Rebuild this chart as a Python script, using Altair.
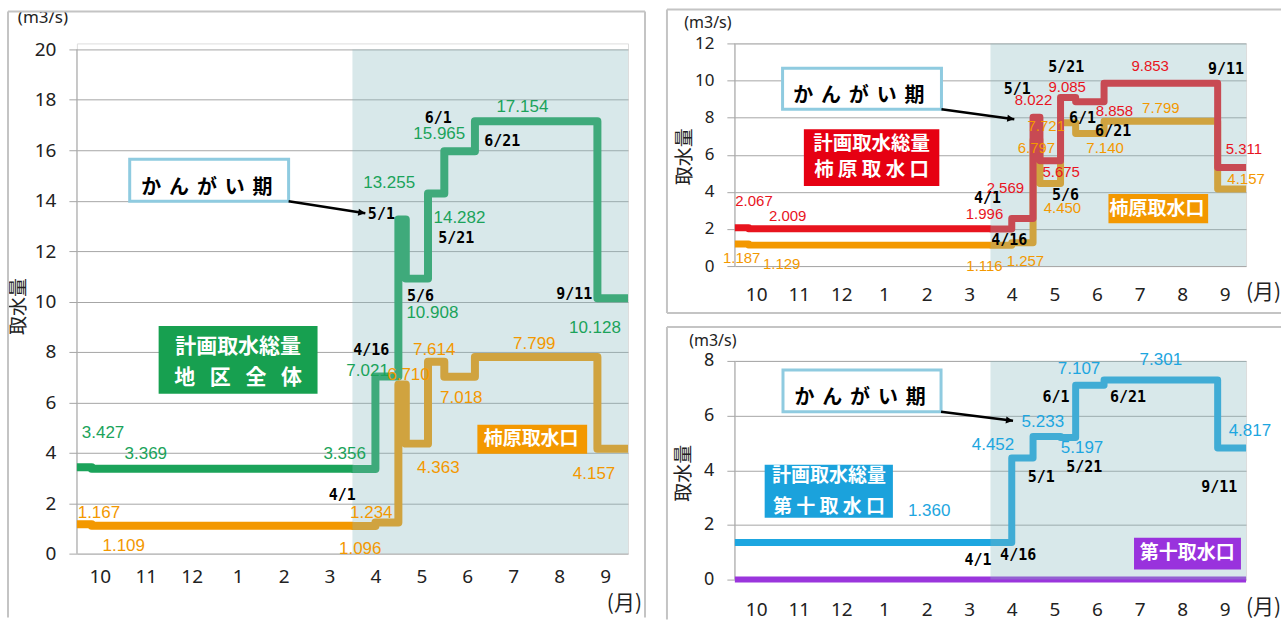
import math
import altair as alt
import pandas as pd

# ---- calendar: water year runs October -> September, one unit per month ----
MONTH_ORDER = [10, 11, 12, 1, 2, 3, 4, 5, 6, 7, 8, 9]
MONTH_DAYS = [31, 30, 31, 31, 28, 31, 30, 31, 30, 31, 31, 30]


def mpos(date):
    m, d = (int(p) for p in date.split("/"))
    i = MONTH_ORDER.index(m)
    return i + (d - 1) / MONTH_DAYS[i]


# ---- planned intake (m3/s), value in force from each change date ----
change_dates = ["10/1", "10/11", "4/1", "4/16", "5/1", "5/6", "5/21", "6/1", "6/21", "9/11"]

district_total = [3.427, 3.369, 3.356, 7.021, 13.255, 10.908, 14.282, 15.965, 17.154, 10.128]
district_kakihara = [1.167, 1.109, 1.096, 1.234, 6.710, 4.363, 7.614, 7.018, 7.799, 4.157]
kakihara_total = [2.067, 2.009, 1.996, 2.569, 8.022, 5.675, 9.085, 8.858, 9.853, 5.311]
kakihara_intake = [1.187, 1.129, 1.116, 1.257, 6.797, 4.450, 7.721, 7.140, 7.799, 4.157]
daiju_total = [1.360, 1.360, 1.360, 4.452, 5.233, 5.233, 5.197, 7.107, 7.301, 4.817]
daiju_intake = [0.0, 0.0, 0.0, 0.0, 0.0, 0.0, 0.0, 0.0, 0.0, 0.0]

# label anchors (month units, m3/s) keyed by index into the series above
district_total_lbl = {0: (0.57, 4.79), 1: (1.50, 3.96), 2: (5.83, 3.96), 3: (6.33, 7.25),
                      4: (6.80, 14.69), 5: (7.74, 9.54), 6: (8.33, 13.31), 7: (7.89, 16.63),
                      8: (9.70, 17.70), 9: (11.28, 8.95)}
district_kakihara_lbl = {0: (0.48, 1.62), 1: (1.02, 0.32), 2: (6.17, 0.20), 3: (6.41, 1.62),
                         4: (7.22, 7.09), 5: (7.87, 3.41), 6: (7.78, 8.08), 7: (8.37, 6.18),
                         8: (9.96, 8.32), 9: (11.26, 3.17)}
kakihara_total_lbl = {0: (0.45, 3.50), 1: (1.24, 2.69), 2: (5.86, 2.80), 3: (6.35, 4.20),
                      4: (7.01, 8.93), 5: (7.66, 5.06), 6: (7.80, 9.63), 7: (8.91, 8.34),
                      8: (9.75, 10.76), 9: (11.95, 6.30)}
kakihara_intake_lbl = {0: (0.16, 0.43), 1: (1.10, 0.11), 2: (5.86, 0.00), 3: (6.82, 0.27),
                       4: (7.08, 6.35), 5: (7.69, 3.12), 6: (7.31, 7.53), 7: (8.69, 6.35),
                       8: (10.00, 8.50), 9: (12.00, 4.68)}
daiju_total_lbl = {0: (4.56, 2.52), 3: (6.06, 4.93), 4: (7.23, 5.77), 6: (8.15, 4.82),
                   7: (8.08, 7.71), 8: (10.00, 8.04), 9: (12.09, 5.44)}

district_dates_lbl = [("4/1", 5.78, 2.34), ("4/16", 6.41, 8.08), ("5/1", 6.63, 13.47),
                      ("5/6", 7.48, 10.22), ("5/21", 8.26, 12.51), ("6/1", 7.87, 17.26),
                      ("6/21", 9.26, 16.36), ("9/11", 10.83, 10.30)]
kakihara_dates_lbl = [("4/1", 5.93, 3.66), ("4/16", 6.44, 1.40), ("5/1", 6.63, 9.53),
                      ("5/6", 7.76, 3.82), ("5/21", 7.78, 10.71), ("6/1", 8.16, 7.96),
                      ("6/21", 8.88, 7.26), ("9/11", 11.53, 10.60)]
daiju_dates_lbl = [("4/1", 5.71, 0.73), ("4/16", 6.65, 0.91), ("5/1", 7.19, 3.76),
                   ("5/21", 8.20, 4.13), ("6/1", 7.54, 6.69), ("6/21", 9.23, 6.69),
                   ("9/11", 11.37, 3.40)]

# ---- styling ----
GREEN, ORANGE, RED, BLUE, PURPLE = "#1ba35a", "#f39800", "#e8141e", "#1da6e0", "#9a35dc"
GREEN_BOX, RED_BOX, BLUE_BOX, PURPLE_BOX = "#17a050", "#e60012", "#1ba2dc", "#9932dd"
SHADE = "#8ab8be"
GRID = "#a6a6a6"
FRAME = "#c4c4c4"
INK = "#222222"
NUM_FONT = "Liberation Sans"
DATE_FONT = "DejaVu Sans Mono"
JP_FONT = "Noto Sans CJK JP"
AXIS_FONT = "Noto Sans"
NOTE_TEXT = " \u2006".join("かんがい期")

MONTH_EXPR = "[" + ",".join(f"'{m}'" for m in MONTH_ORDER) + "][floor(datum.value)]"


def panel(c):
    W, H, ytop, ymax = c["W"], c["H"], c["ytop"], c["ymax"]
    xsc = alt.Scale(domain=[0, 12], nice=False, zero=False)
    ysc = alt.Scale(domain=[0, ytop], nice=False, zero=False)

    x_axis = alt.Axis(values=[i + 0.5 for i in range(12)], labelExpr=MONTH_EXPR, grid=False,
                      domain=False, ticks=False, labelFont=AXIS_FONT, labelFontSize=c["mfs"],
                      labelColor=INK, labelPadding=c["mpad"], labelAngle=0, labelFlush=False,
                      labelOverlap=False, title=None)
    y_axis = alt.Axis(values=list(range(0, ymax + 1, 2)), grid=True, gridColor=GRID, gridWidth=1,
                      domain=False, ticks=True, tickColor=GRID, tickSize=8,
                      labelFont=AXIS_FONT, labelFontSize=c["yfs"], labelColor=INK,
                      labelPadding=c["ypad"], title="取水量", titleFont=JP_FONT, titleFontSize=19,
                      titleFontWeight="normal", titleColor=INK, titleAngle=270,
                      titleX=c["tx"], titleY=c["ty"], titleAlign="center", titleBaseline="middle")

    def X(f):
        return alt.X(f, type="quantitative", scale=xsc, axis=x_axis)

    def Y(f):
        return alt.Y(f, type="quantitative", scale=ysc, axis=y_axis)

    layers = []
    # y axis line
    axis_df = pd.DataFrame({"x": [0.0], "v": [0.0], "v2": [float(ymax)]})
    layers.append(alt.Chart(axis_df).mark_rule(color=GRID, strokeWidth=1).encode(
        x=X("x"), y=Y("v"), y2="v2:Q"))

    # step lines
    for vals, color, sw in c["lines"]:
        df = pd.DataFrame({"x": [mpos(d) for d in change_dates] + [12.0],
                           "v": list(vals) + [vals[-1]]})
        layers.append(alt.Chart(df).mark_line(interpolate="step-after", color=color,
                                              strokeWidth=sw, strokeJoin="round").encode(
            x=X("x"), y=Y("v")))

    # irrigation season shading
    shade = pd.DataFrame({"x": [mpos("4/1")], "x2": [12.0], "v": [0.0], "v2": [float(ymax)]})
    layers.append(alt.Chart(shade).mark_rect(fill=SHADE, opacity=0.33).encode(
        x=X("x"), x2="x2:Q", y=Y("v"), y2="v2:Q"))

    # coloured captions
    for (x1, x2, v1, v2), fill, (tx, ty), text, fs, lh in c["boxes"]:
        bdf = pd.DataFrame({"x": [x1], "x2": [x2], "v": [v1], "v2": [v2]})
        layers.append(alt.Chart(bdf).mark_rect(fill=fill).encode(
            x=X("x"), x2="x2:Q", y=Y("v"), y2="v2:Q"))
        nlines = text.count("\n") + 1
        tdf = pd.DataFrame({"x": [tx], "v": [ty], "t": [text]})
        layers.append(alt.Chart(tdf).mark_text(font=JP_FONT, fontSize=fs, fontWeight="bold",
                                               color="white", align="center", baseline="middle",
                                               lineBreak="\n", lineHeight=lh,
                                               dy=-(nlines - 1) * lh / 2).encode(
            x=X("x"), y=Y("v"), text="t:N"))

    # irrigation-season callout with arrow
    (x1, x2, v1, v2), (tx, ty), (ax1, av1, ax2, av2) = c["note"]
    ndf = pd.DataFrame({"x": [x1], "x2": [x2], "v": [v1], "v2": [v2]})
    layers.append(alt.Chart(ndf).mark_rect(fill="white", stroke="#8fcbe0", strokeWidth=3).encode(
        x=X("x"), x2="x2:Q", y=Y("v"), y2="v2:Q"))
    ntdf = pd.DataFrame({"x": [tx], "v": [ty], "t": [NOTE_TEXT]})
    layers.append(alt.Chart(ntdf).mark_text(font=JP_FONT, fontSize=20, fontWeight="bold",
                                            color="black", align="center",
                                            baseline="middle").encode(
        x=X("x"), y=Y("v"), text="t:N"))
    adf = pd.DataFrame({"x": [ax1], "x2": [ax2], "v": [av1], "v2": [av2]})
    layers.append(alt.Chart(adf).mark_rule(color="black", strokeWidth=2.5).encode(
        x=X("x"), x2="x2:Q", y=Y("v"), y2="v2:Q"))
    dx = (ax2 - ax1) * W / 12
    dy = -(av2 - av1) * H / ytop
    ang = math.degrees(math.atan2(dy, dx)) % 360
    hdf = pd.DataFrame({"x": [ax2], "v": [av2]})
    layers.append(alt.Chart(hdf).mark_point(shape="M0,0 L-2,-1 L-2,1 Z", filled=True,
                                            fill="black", opacity=1, size=50,
                                            angle=ang).encode(x=X("x"), y=Y("v")))

    # value labels
    for vals, pos, color, fs in c["values"]:
        vdf = pd.DataFrame({"x": [p[0] for p in pos.values()],
                            "v": [p[1] for p in pos.values()],
                            "t": [f"{vals[i]:.3f}" for i in pos]})
        layers.append(alt.Chart(vdf).mark_text(font=NUM_FONT, fontSize=fs, color=color,
                                               align="center", baseline="middle").encode(
            x=X("x"), y=Y("v"), text="t:N"))

    # change-date labels
    ddf = pd.DataFrame(c["dates"], columns=["t", "x", "v"])
    layers.append(alt.Chart(ddf).mark_text(font=DATE_FONT, fontSize=15, fontWeight="bold",
                                           color="black", align="center",
                                           baseline="middle").encode(
        x=X("x"), y=Y("v"), text="t:N"))

    # unit captions
    ux, uy, ufs = c["unit_xy"]
    layers.append(alt.Chart(pd.DataFrame({"t": ["(m3/s)"]})).mark_text(
        font=AXIS_FONT, fontSize=ufs, color=INK, align="center", baseline="middle").encode(
        x=alt.value(ux), y=alt.value(uy), text="t:N"))
    mx, my = c["month_xy"]
    layers.append(alt.Chart(pd.DataFrame({"t": ["(月)"]})).mark_text(
        font=JP_FONT, fontSize=21, color=INK, align="right", baseline="middle").encode(
        x=alt.value(mx), y=alt.value(my), text="t:N"))

    # panel frame
    for (fx1, fy1, fx2, fy2) in c["frame"]:
        layers.append(alt.Chart(pd.DataFrame({"k": [0]})).mark_rule(
            color=FRAME, strokeWidth=2).encode(
            x=alt.value(fx1), y=alt.value(fy1), x2=alt.value(fx2), y2=alt.value(fy2)))

    return alt.layer(*layers).properties(width=W, height=H)


left = panel({
    "W": 552, "H": 511, "ytop": 20 + 6 / 25.25, "ymax": 20,
    "mfs": 19, "mpad": 14, "yfs": 19, "ypad": 13, "tx": -58, "ty": 263,
    "lines": [(district_total, GREEN, 8), (district_kakihara, ORANGE, 8)],
    "boxes": [((1.78, 5.24, 6.34, 9.03), GREEN_BOX, (3.51, 7.58),
               "計画取水総量\n地\u2002\u2009区\u2002\u2009全\u2002\u2009体", 21, 31),
              ((8.72, 11.11, 3.96, 5.11), ORANGE, (9.89, 4.55), "柿原取水口", 19, 22)],
    "note": ((1.15, 4.61, 13.98, 15.64), (2.83, 14.50), (4.61, 13.98, 6.28, 13.50)),
    "values": [(district_total, district_total_lbl, GREEN, 17),
               (district_kakihara, district_kakihara_lbl, ORANGE, 17)],
    "dates": district_dates_lbl,
    "unit_xy": (-34, -25, 17), "month_xy": (566, 561),
    "frame": [(-69, -32, 569, -32), (-69, -32, -69, 575), (569, -32, 569, 575)],
})

top_right = panel({
    "W": 512, "H": 223, "ytop": 12, "ymax": 12,
    "mfs": 19, "mpad": 19, "yfs": 17, "ypad": 13, "tx": -50, "ty": 113,
    "lines": [(kakihara_intake, ORANGE, 7), (kakihara_total, RED, 7)],
    "boxes": [((1.62, 4.80, 4.31, 7.37), RED_BOX, (3.21, 5.87),
               "計画取水総量\n柿 原 取 水 口", 19.5, 25.5),
              ((8.77, 11.11, 2.31, 3.88), ORANGE, (9.91, 3.07), "柿原取水口", 19, 22)],
    "note": ((1.12, 4.85, 8.45, 10.66), (2.91, 9.15), (4.85, 8.45, 6.56, 7.91)),
    "values": [(kakihara_total, kakihara_total_lbl, RED, 15),
               (kakihara_intake, kakihara_intake_lbl, ORANGE, 15)],
    "dates": kakihara_dates_lbl,
    "unit_xy": (-27, -20, 16), "month_xy": (547, 250),
    "frame": [(-68, -34, 547, -34), (-68, -34, -68, 270), (-68, 270, 547, 270)],
})

bottom_right = panel({
    "W": 512, "H": 219, "ytop": 8, "ymax": 8,
    "mfs": 19, "mpad": 21, "yfs": 18, "ypad": 13, "tx": -51, "ty": 112,
    "lines": [(daiju_total, BLUE, 7), (daiju_intake, PURPLE, 6)],
    "boxes": [((0.70, 3.71, 2.26, 4.20), BLUE_BOX, (2.21, 3.21),
               "計画取水総量\n第 十 取 水 口", 19, 31),
              ((9.37, 11.88, 0.37, 1.53), PURPLE_BOX, (10.62, 0.99), "第十取水口", 19, 22)],
    "note": ((1.13, 4.84, 6.14, 7.67), (2.94, 6.65), (4.84, 6.14, 6.53, 5.81)),
    "values": [(daiju_total, daiju_total_lbl, BLUE, 17)],
    "dates": daiju_dates_lbl,
    "unit_xy": (-22, -20, 16), "month_xy": (547, 247),
    "frame": [(-68, -34, 547, -34), (-68, -34, -68, 259)],
})

chart = alt.hconcat(
    left, alt.vconcat(top_right, bottom_right, spacing=10), spacing=18
).properties(
    padding={"left": 6, "top": 7, "right": 0, "bottom": 0}
).configure_view(strokeWidth=0).configure(background="white")

chart.save("out.html", embed_options={"renderer": "svg", "actions": False})
